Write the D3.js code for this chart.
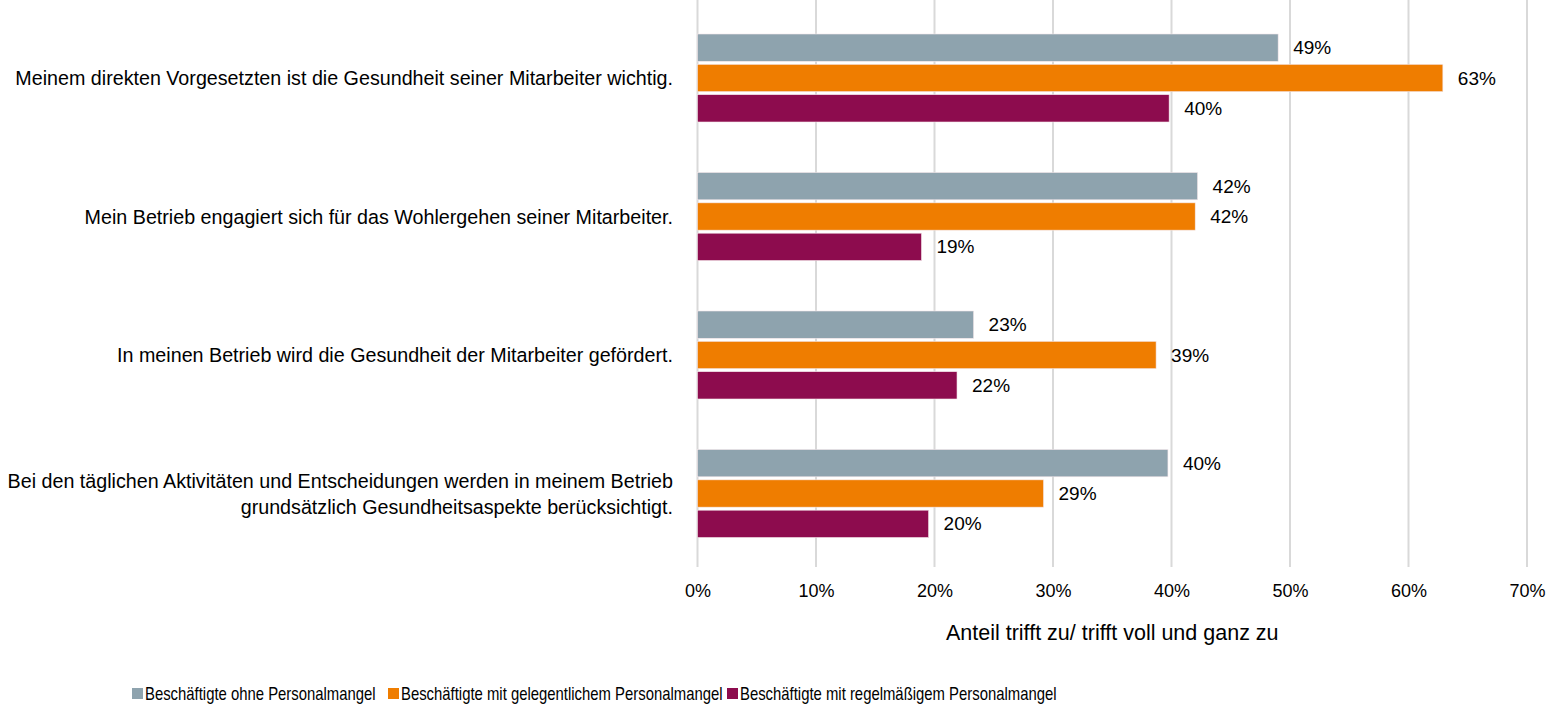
<!DOCTYPE html>
<html>
<head>
<meta charset="utf-8">
<script src="https://cdn.jsdelivr.net/npm/d3@7"></script>
<style>
	body { margin: 0; background: #fff; }
	svg { font-family: "Liberation Sans", Arial, sans-serif; }
</style>
</head>
<body>
<div id="chart"></div>
<script>
// Data
const categories = [
	["Meinem direkten Vorgesetzten ist die Gesundheit seiner Mitarbeiter wichtig."],
	["Mein Betrieb engagiert sich für das Wohlergehen seiner Mitarbeiter."],
	["In meinen Betrieb wird die Gesundheit der Mitarbeiter gefördert."],
	["Bei den täglichen Aktivitäten und Entscheidungen werden in meinem Betrieb", "grundsätzlich Gesundheitsaspekte berücksichtigt."]
];
const seriesNames = [
	"Beschäftigte ohne Personalmangel",
	"Beschäftigte mit gelegentlichem Personalmangel",
	"Beschäftigte mit regelmäßigem Personalmangel"
];
const seriesColors = ["#8ea3ae", "#ef7d00", "#8d0c4e"];
const ohne = [49.0, 42.2, 23.3, 39.7];
const gelegentlich = [62.9, 42.0, 38.7, 29.2];
const regelmaessig = [39.8, 18.9, 21.9, 19.5];
const valueLabels = [
	["49%", "63%", "40%"],
	["42%", "42%", "19%"],
	["23%", "39%", "22%"],
	["40%", "29%", "20%"]
];
const xTicks = [0, 10, 20, 30, 40, 50, 60, 70];
const axisTitle = "Anteil trifft zu/ trifft voll und ganz zu";

const width = 1550, height = 708;
const svg = d3.select("#chart").append("svg")
	.attr("width", width)
	.attr("height", height);

// x position scale
const x = d3.scaleLinear()
	.domain([0, 70])
	.range([697.5, 1527]);

// y position scale (categories)
const y = d3.scaleBand()
	.domain(d3.range(categories.length))
	.range([9, 563]);

// bars inside each category
const sub = d3.scaleBand()
	.domain(d3.range(3))
	.range([25, 113])
	.paddingInner(0.1);

// gridlines
svg.append("g")
	.selectAll("line")
	.data(xTicks)
	.enter().append("line")
	.attr("x1", d => x(d))
	.attr("x2", d => x(d))
	.attr("y1", 0)
	.attr("y2", 567)
	.attr("stroke", "#d9d9d9")
	.attr("stroke-width", 2);

// x axis
const xAxis = svg.append("g")
	.attr("transform", "translate(0,567)")
	.call(d3.axisBottom(x).tickValues(xTicks).tickFormat(d => d + "%").tickSize(0).tickPadding(17));
xAxis.select(".domain").remove();
xAxis.selectAll("text")
	.attr("font-size", 18)
	.attr("font-family", "Liberation Sans, Arial, sans-serif")
	.attr("fill", "#000");

svg.append("text")
	.attr("x", (x(0) + x(70)) / 2)
	.attr("y", 632)
	.attr("dy", "0.35em")
	.attr("text-anchor", "middle")
	.attr("font-size", 21.5)
	.text(axisTitle);

// rows
const rows = categories.map((c, i) => ({
	cat: i,
	vals: [ohne[i], gelegentlich[i], regelmaessig[i]]
}));

const groups = svg.append("g")
	.selectAll("g")
	.data(rows)
	.enter().append("g")
	.attr("transform", d => "translate(0," + y(d.cat) + ")");

groups.selectAll("rect")
	.data(d => d.vals.map((v, j) => ({ v: v, j: j, cat: d.cat })))
	.enter().append("rect")
	.attr("x", x(0))
	.attr("y", d => sub(d.j))
	.attr("width", d => x(d.v) - x(0))
	.attr("height", sub.bandwidth())
	.attr("fill", d => seriesColors[d.j])
	.attr("stroke", "#f4e6ea")
	.attr("stroke-width", 0.6);

groups.selectAll("text.val")
	.data(d => d.vals.map((v, j) => ({ v: v, j: j, cat: d.cat })))
	.enter().append("text")
	.attr("class", "val")
	.attr("x", d => x(d.v) + 15)
	.attr("y", d => sub(d.j) + sub.bandwidth() / 2)
	.attr("dy", "0.35em")
	.attr("font-size", 19)
	.text(d => valueLabels[d.cat][d.j]);

// category labels
groups.append("text")
	.attr("text-anchor", "end")
	.attr("font-size", 19.7)
	.selectAll("tspan")
	.data(d => categories[d.cat].map((t, k, arr) => ({ t: t, k: k, n: arr.length })))
	.enter().append("tspan")
	.attr("x", 673)
	.attr("y", d => y.bandwidth() / 2 + (d.k - (d.n - 1) / 2) * 26)
	.attr("dy", "0.35em")
	.text(d => d.t);

// legend
const legendX = [132, 388, 727];
const legend = svg.append("g")
	.selectAll("g")
	.data(seriesNames)
	.enter().append("g")
	.attr("transform", (d, i) => "translate(" + legendX[i] + ",688)");
legend.append("rect")
	.attr("width", 11)
	.attr("height", 11)
	.attr("fill", (d, i) => seriesColors[i]);
legend.append("text")
	.attr("transform", "translate(13,6) scale(0.85,1)")
	.attr("dy", "0.35em")
	.attr("font-size", 17.5)
	.text(d => d);
</script>
</body>
</html>
